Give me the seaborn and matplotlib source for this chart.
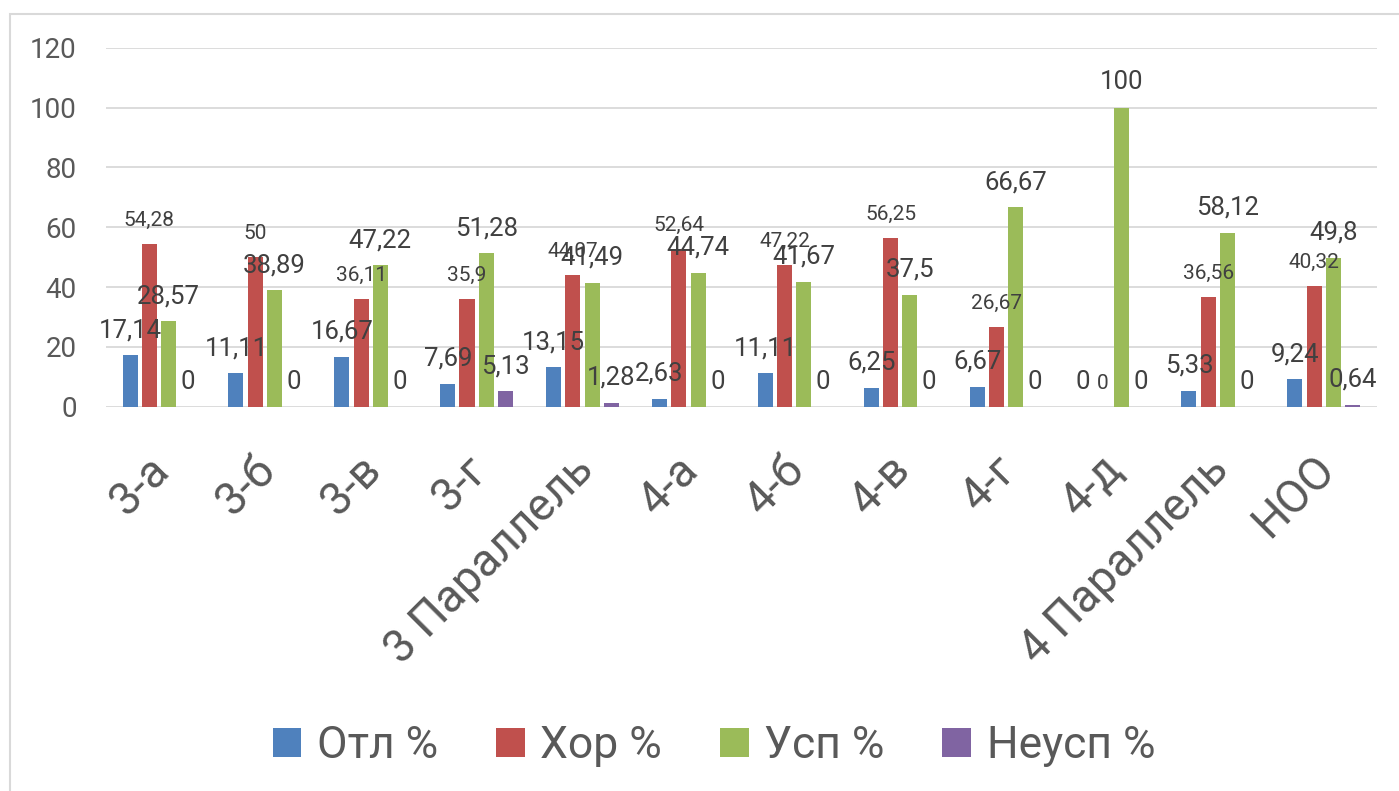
import matplotlib
matplotlib.use("Agg")
import matplotlib.pyplot as plt
import matplotlib.transforms as mtransforms
from matplotlib.patches import Patch, Rectangle
import seaborn as sns
import pandas as pd

# ---- data ----
categories = ["3-а", "3-б", "3-в", "3-г", "3 Параллель", "4-а", "4-б", "4-в",
              "4-г", "4-д", "4 Параллель", "НОО"]
series_names = ["Отл %", "Хор %", "Усп %", "Неусп %"]
otl = [17.14, 11.11, 16.67, 7.69, 13.15, 2.63, 11.11, 6.25, 6.67, 0, 5.33, 9.24]
hor = [54.28, 50, 36.11, 35.9, 44.07, 52.64, 47.22, 56.25, 26.67, 0, 36.56, 40.32]
usp = [28.57, 38.89, 47.22, 51.28, 41.49, 44.74, 41.67, 37.5, 66.67, 100, 58.12, 49.8]
neusp = [0, 0, 0, 5.13, 1.28, 0, 0, 0, 0, 0, 0, 0.64]
y_ticks = [0, 20, 40, 60, 80, 100, 120]

colors = ["#4F81BD", "#C0504D", "#9BBB59", "#8064A2"]

rows = []
for name, vals in zip(series_names, [otl, hor, usp, neusp]):
    for c, v in zip(categories, vals):
        rows.append({"cat": c, "series": name, "value": v})
df = pd.DataFrame(rows)

sns.set_theme(style="white")
plt.rcParams["font.family"] = ["Roboto", "DejaVu Sans"]

W, H = 1399, 791
fig = plt.figure(figsize=(W / 100, H / 100), dpi=100)
ax = fig.add_axes([106 / W, 1 - 406.7 / H, (1376.7 - 106) / W, (406.7 - 47.7) / H])

# chart frame
fig.patches.append(Rectangle((10 / W, -0.1), 1.2, 1 - 14 / H + 0.1,
                             transform=fig.transFigure, fill=False,
                             edgecolor="#D9D9D9", linewidth=1.5, zorder=0))

sns.barplot(data=df, x="cat", y="value", hue="series", order=categories,
            hue_order=series_names, palette=colors, width=0.727, gap=0.22,
            saturation=1, legend=False, ax=ax, linewidth=0, errorbar=None)

ax.set_ylim(0, 120)
ax.set_xlim(-0.5, len(categories) - 0.5)
ax.set_yticks(y_ticks)
ax.set_yticklabels([str(t) for t in y_ticks])
ax.yaxis.grid(True, color="#D9D9D9", linewidth=1.3)
ax.set_axisbelow(True)
for s in ax.spines.values():
    s.set_visible(False)
ax.set_xlabel("")
ax.set_ylabel("")
ax.tick_params(axis="y", length=0, pad=21, labelsize=20, labelcolor="#595959")
ax.tick_params(axis="x", length=0, pad=29, labelsize=33, labelcolor="#595959")
for lab in ax.get_xticklabels():
    lab.set_rotation(45)
    lab.set_ha("right")
    lab.set_va("top")
    lab.set_rotation_mode("anchor")
    lab.set_transform(lab.get_transform() +
                      mtransforms.ScaledTranslation(-12 / 100, 0, fig.dpi_scale_trans))

# data labels
label_sizes = [18.5, 15, 18.5, 18.5]
for cont, vals, fs in zip(ax.containers, [otl, hor, usp, neusp], label_sizes):
    for p, v in zip(cont.patches, vals):
        x = p.get_x() + p.get_width() / 2
        txt = f"{v:g}".replace(".", ",")
        ax.annotate(txt, (x, v), xytext=(0, 13), textcoords="offset points",
                    ha="center", va="baseline", fontsize=fs, color="#404040",
                    annotation_clip=False)

handles = [Patch(facecolor=c, edgecolor="none") for c in colors]
fig.legend(handles, series_names, loc="center", bbox_to_anchor=(714 / W, 1 - 746 / H),
           ncol=4, frameon=False, fontsize=32, labelcolor="#595959",
           handlelength=0.65, handleheight=0.65, handletextpad=0.35,
           columnspacing=1.3)

fig.savefig("out.png", dpi=100)
